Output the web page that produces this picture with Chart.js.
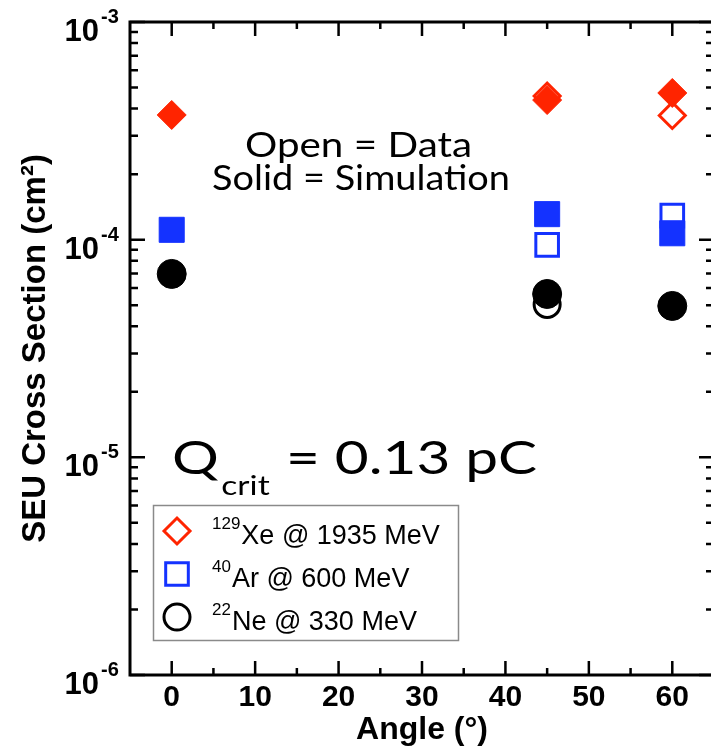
<!DOCTYPE html>
<html>
<head>
<meta charset="utf-8">
<script src="https://cdn.jsdelivr.net/npm/chart.js@4/dist/chart.umd.min.js"></script>
<style>
html,body{margin:0;padding:0;overflow:hidden;background:#fff;width:711px;height:750px}
canvas{display:block}
</style>
</head>
<body>
<canvas id="c" width="740" height="750"></canvas>
<script>
// ---- data ----
const xeSimX = [0, 45, 60];
const xeSimY = [3.74e-4, 4.38e-4, 4.72e-4];
const xeDataX = [45, 60];
const xeDataY = [4.57e-4, 3.72e-4];

const arSimX = [0, 45, 60];
const arSimY = [1.11e-4, 1.31e-4, 1.07e-4];
const arDataX = [45, 60];
const arDataY = [9.46e-5, 1.29e-4];

const neSimX = [0, 45, 60];
const neSimY = [6.96e-5, 5.63e-5, 4.96e-5];
const neDataX = [45];
const neDataY = [5.04e-5];

// ---- axis ticks / labels ----
const xTickValues = [0, 10, 20, 30, 40, 50, 60];
const xMinorTicks = [5, 15, 25, 35, 45, 55];
const yDecades = [1e-6, 1e-5, 1e-4, 1e-3];
const yExponents = ['-6', '-5', '-4', '-3'];
const yMinorMultipliers = [2, 3, 4, 5, 6, 7, 8, 9];

const legendIsotopes = ['129', '40', '22'];
const legendNames = ['Xe @ 1935 MeV', 'Ar @ 600 MeV', 'Ne @ 330 MeV'];
const noteLines = ['Open = Data', 'Solid = Simulation'];
const qText = ['Q', 'crit', ' = 0.13 pC'];

const RED = '#ff2400';
const BLUE = '#1432ff';
const BLACK = '#000000';
const HV = '"Liberation Sans", Arial, Helvetica, sans-serif';
const GEO = 'Lato, "Noto Sans", sans-serif';

// target plot frame (pixels)
const AREA = {left: 130, right: 714, top: 22, bottom: 675};

const pts = (xs, ys) => xs.map((x, i) => ({x: x, y: ys[i]}));

function solid(label, xs, ys, style, r, color) {
  return {label, data: pts(xs, ys), pointStyle: style, pointRadius: r, pointHoverRadius: r,
    backgroundColor: color, borderColor: color, borderWidth: 1, showLine: false, order: 1};
}
function open(label, xs, ys, style, r, color) {
  return {label, data: pts(xs, ys), pointStyle: style, pointRadius: r, pointHoverRadius: r,
    backgroundColor: 'rgba(0,0,0,0)', borderColor: color, borderWidth: 3, showLine: false, order: 2};
}

function marker(ctx, style, x, y, r, color) {
  ctx.save();
  ctx.strokeStyle = color; ctx.lineWidth = 3;
  ctx.beginPath();
  if (style === 'rectRot') {
    ctx.moveTo(x - r, y); ctx.lineTo(x, y - r); ctx.lineTo(x + r, y); ctx.lineTo(x, y + r); ctx.closePath();
  } else if (style === 'rect') {
    const s = r * Math.SQRT1_2; ctx.rect(x - s, y - s, 2 * s, 2 * s);
  } else {
    ctx.arc(x, y, r, 0, Math.PI * 2);
  }
  ctx.stroke();
  ctx.restore();
}

const framePlugin = {
  id: 'frame',
  beforeDatasetsDraw(chart) {
    const ctx = chart.ctx, ca = chart.chartArea;
    const xs = chart.scales.x, ys = chart.scales.y;
    ctx.save();
    ctx.strokeStyle = '#000';
    ctx.lineWidth = 3;
    ctx.strokeRect(ca.left, ca.top, ca.right - ca.left, ca.bottom - ca.top);
    ctx.lineWidth = 2.5;
    ctx.beginPath();
    const vt = (px, len) => {
      ctx.moveTo(px, ca.bottom); ctx.lineTo(px, ca.bottom - len);
      ctx.moveTo(px, ca.top); ctx.lineTo(px, ca.top + len);
    };
    const ht = (py, len) => {
      ctx.moveTo(ca.left, py); ctx.lineTo(ca.left + len, py);
      ctx.moveTo(ca.right, py); ctx.lineTo(ca.right - len, py);
    };
    xTickValues.forEach(v => vt(xs.getPixelForValue(v), 14));
    xMinorTicks.forEach(v => vt(xs.getPixelForValue(v), 7));
    yDecades.forEach(v => ht(ys.getPixelForValue(v), 15));
    yDecades.slice(0, -1).forEach(d => yMinorMultipliers.forEach(m => ht(ys.getPixelForValue(d * m), 8)));
    ctx.stroke();
    ctx.restore();
  },
  afterDraw(chart) {
    const ctx = chart.ctx, ys = chart.scales.y, ca = chart.chartArea;
    ctx.save();
    ctx.fillStyle = '#000';
    // y tick labels 10^n
    yDecades.forEach((v, i) => {
      const py = ys.getPixelForValue(v);
      ctx.font = 'bold 31px ' + HV;
      ctx.textAlign = 'right'; ctx.textBaseline = 'alphabetic';
      ctx.fillText('10', ca.left - 31, py + 19);
      ctx.font = 'bold 20px ' + HV;
      ctx.textAlign = 'left';
      ctx.fillText(yExponents[i], ca.left - 29, py + 1);
    });

    // annotation lines
    const fitText = (text, x0, base, w, font) => {
      ctx.font = font;
      const sx = w / ctx.measureText(text).width;
      ctx.save(); ctx.translate(x0, base); ctx.scale(sx, 1);
      ctx.textAlign = 'left'; ctx.fillText(text, 0, 0); ctx.restore();
    };
    fitText(noteLines[0], 245, 157, 227, '35px ' + GEO);
    fitText(noteLines[1], 212, 190, 298, '35px ' + GEO);

    // Qcrit
    const fBig = '47px ' + GEO, fSub = '27px ' + GEO;
    ctx.font = fBig; const w0 = ctx.measureText(qText[0]).width, w2 = ctx.measureText(qText[2]).width;
    ctx.font = fSub; const w1 = ctx.measureText(qText[1]).width;
    const sq = (537 - 172) / (w0 + w1 + w2 + 3);
    ctx.save(); ctx.translate(172, 474); ctx.scale(sq, 1); ctx.textAlign = 'left';
    ctx.font = fBig; ctx.fillText(qText[0], 0, 0);
    ctx.font = fSub; ctx.fillText(qText[1], w0 + 2, 21);
    ctx.font = fBig; ctx.fillText(qText[2], w0 + w1 + 3, 0);
    ctx.restore();

    // legend
    ctx.fillStyle = '#fff';
    ctx.fillRect(153, 505, 305, 135);
    ctx.strokeStyle = '#8a8a8a'; ctx.lineWidth = 1.5;
    ctx.strokeRect(153.5, 505.5, 305, 135);
    const styles = ['rectRot', 'rect', 'circle'];
    const radii = [13, 16, 13];
    const colors = [RED, BLUE, BLACK];
    const bases = [544, 587, 630];
    legendNames.forEach((name, i) => {
      marker(ctx, styles[i], 177, bases[i] - 13, radii[i], colors[i]);
      ctx.fillStyle = '#000'; ctx.textAlign = 'left';
      ctx.font = '17px ' + HV;
      ctx.fillText(legendIsotopes[i], 212, bases[i] - 15);
      const ws = ctx.measureText(legendIsotopes[i]).width;
      ctx.font = '27px ' + HV;
      ctx.fillText(name, 212 + ws + 1, bases[i]);
    });
    ctx.restore();
  }
};

const chart = new Chart(document.getElementById('c'), {
  type: 'scatter',
  data: {
    datasets: [
      solid('129Xe simulation', xeSimX, xeSimY, 'rectRot', 14.5, RED),
      open('129Xe data', xeDataX, xeDataY, 'rectRot', 13, RED),
      solid('40Ar simulation', arSimX, arSimY, 'rect', 17.7, BLUE),
      open('40Ar data', arDataX, arDataY, 'rect', 16, BLUE),
      solid('22Ne simulation', neSimX, neSimY, 'circle', 14.5, BLACK),
      open('22Ne data', neDataX, neDataY, 'circle', 13, BLACK)
    ]
  },
  options: {
    responsive: false,
    animation: false,
    events: [],
    layout: {padding: {top: 22, right: 26, left: 0, bottom: 0}},
    plugins: {legend: {display: false}, tooltip: {enabled: false}},
    scales: {
      x: {
        type: 'linear', min: -5, max: 65,
        afterBuildTicks: s => { s.ticks = xTickValues.map(v => ({value: v})); },
        afterFit: s => { s.height = 75; s.paddingLeft = 0; s.paddingRight = 0; },
        grid: {display: false, drawTicks: false},
        border: {display: false},
        ticks: {color: '#000', padding: 5, maxRotation: 0, autoSkip: false,
          font: {family: HV, size: 30, weight: 'bold'}},
        title: {display: true, text: 'Angle (°)', color: '#000',
          font: {family: HV, size: 32, weight: 'bold'}, padding: {top: 0, bottom: 1}}
      },
      y: {
        type: 'logarithmic', min: 1e-6, max: 1e-3,
        afterFit: s => { s.width = 130; s.paddingTop = 0; s.paddingBottom = 0; },
        grid: {display: false, drawTicks: false},
        border: {display: false},
        ticks: {display: false},
        title: {display: true, text: 'SEU Cross Section (cm²)', color: '#000',
          font: {family: HV, size: 33, weight: 'bold'}, padding: {top: 16, bottom: 0}}
      }
    }
  },
  plugins: [framePlugin]
});

// nudge layout padding so the plot frame sits exactly where the reference has it
(function fixFrame() {
  const ca = chart.chartArea, p = chart.options.layout.padding;
  const dr = ca.right - AREA.right, dt = AREA.top - ca.top, db = ca.bottom - AREA.bottom;
  if (Math.abs(dr) > 0.5 || Math.abs(dt) > 0.5 || Math.abs(db) > 0.5) {
    p.right += dr; p.top += dt; p.bottom += db;
    chart.update();
  }
})();
</script>
</body>
</html>
